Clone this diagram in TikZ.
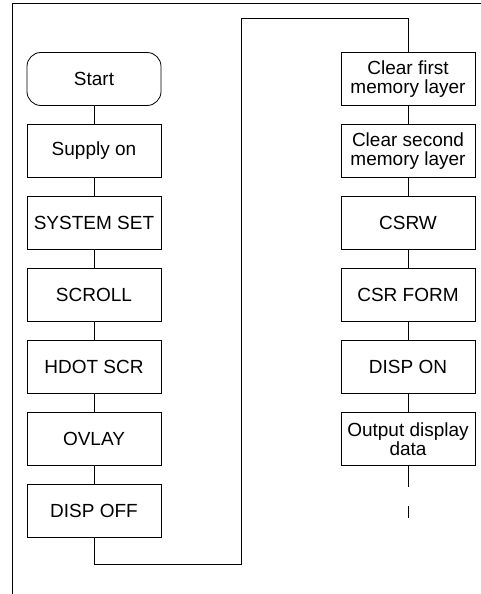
\documentclass[tikz,border=0pt]{standalone}
\usepackage{fontspec}
\setmainfont{Liberation Sans}
\begin{document}
\begin{tikzpicture}[x=1bp,y=-1bp,
  line width=0.8bp,
  every node/.style={font=\fontsize{19bp}{18.5bp}\selectfont},
  stepbox/.style={draw, rectangle, minimum width=134bp, minimum height=53bp, inner sep=0pt, align=center},
  startbox/.style={stepbox, rounded corners=14bp}]
\useasboundingbox (0,0) rectangle (481,594);
% frame
\draw (481,3) -- (12,3) -- (12,594);
% left column
\node[startbox] (start) at (94,79) {Start};
\node[stepbox] (supply) at (94,151) {Supply on};
\node[stepbox] (sysset) at (94,223) {SYSTEM SET};
\node[stepbox] (scroll) at (94,295) {SCROLL};
\node[stepbox] (hdot) at (94,367) {HDOT SCR};
\node[stepbox] (ovlay) at (94,439) {OVLAY};
\node[stepbox] (dispoff) at (94,511) {DISP OFF};
% right column
\node[stepbox] (clr1) at (408,79) {Clear first\\memory layer};
\node[stepbox] (clr2) at (408,151) {Clear second\\memory layer};
\node[stepbox] (csrw) at (408,223) {CSRW};
\node[stepbox] (csrform) at (408,295) {CSR FORM};
\node[stepbox] (dispon) at (408,367) {DISP ON};
\node[stepbox] (outdata) at (408,439) {Output display\\data};
% connectors
\draw (start) -- (supply);
\draw (supply) -- (sysset);
\draw (sysset) -- (scroll);
\draw (scroll) -- (hdot);
\draw (hdot) -- (ovlay);
\draw (ovlay) -- (dispoff);
\coordinate (b1) at (94,564);
\coordinate (b2) at (241,564);
\coordinate (b3) at (241,18);
\coordinate (b4) at (408,18);
\draw (dispoff.south) -- (b1) -- (b2) -- (b3) -- (b4) -- (clr1.north);
\draw (clr1) -- (clr2);
\draw (clr2) -- (csrw);
\draw (csrw) -- (csrform);
\draw (csrform) -- (dispon);
\draw (dispon) -- (outdata);
\coordinate (e1) at (408,487);
\coordinate (e2) at (408,506);
\coordinate (e3) at (408,518);
\draw (outdata.south) -- (e1);
\draw (e2) -- (e3);
\end{tikzpicture}
\end{document}
